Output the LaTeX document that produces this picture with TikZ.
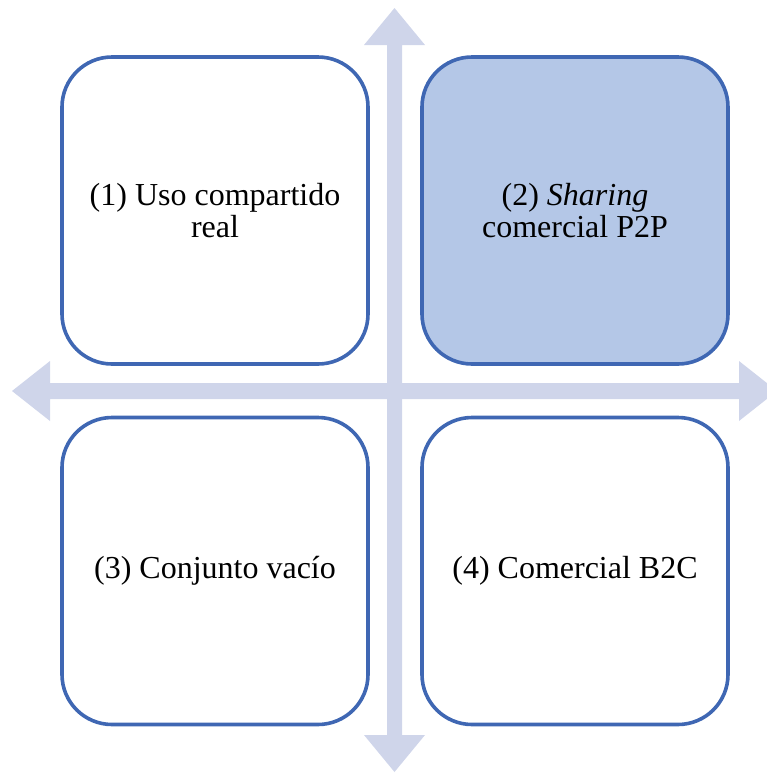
\documentclass[tikz,border=0pt]{standalone}
\usepackage{fontspec}
\setmainfont{Liberation Serif}
\usepackage{xcolor}
\usepackage{tikz}
\usetikzlibrary{calc}

\definecolor{axisfill}{HTML}{CFD5EA}
\definecolor{boxline}{HTML}{3F67B3}
\definecolor{boxfill}{HTML}{B4C7E7}

\tikzset{
  quad/.style={draw=boxline, line width=1.8pt, rounded corners=25pt,
    minimum width=153pt, minimum height=153.5pt, inner sep=0pt,
    align=center, font=\fontsize{16}{16}\selectfont},
  quadhi/.style={quad, fill=boxfill},
  axis/.style={fill=axisfill, draw=none}
}

\begin{document}
\begin{tikzpicture} [x=0.5pt,y=-0.5pt]

\useasboundingbox (0,0) rectangle (767,773);

\begin{scope}
\clip (0,0) rectangle (767,773);
% vertical axis
\fill[axis] (394.5,8) -- (425,45) -- (402,45) -- (402,735) -- (425,735)
  -- (394.5,772) -- (364,735) -- (387,735) -- (387,45) -- (364,45) -- cycle;
% horizontal axis
\fill[axis] (12,391) -- (50,361) -- (50,383) -- (739,383) -- (739,361)
  -- (777,391) -- (739,421) -- (739,399) -- (50,399) -- (50,421) -- cycle;
\end{scope}

\node [quad] (uso) at (215,210.5) {(1) Uso compartido\\real};
\node [quadhi] (sharing) at (575,210.5) {(2) \textit{Sharing}\\comercial P2P};
\node [quad] (vacio) at (215,571) {(3) Conjunto vacío};
\node [quad] (btoc) at (575,571) {(4) Comercial B2C};

\end{tikzpicture}
\end{document}
